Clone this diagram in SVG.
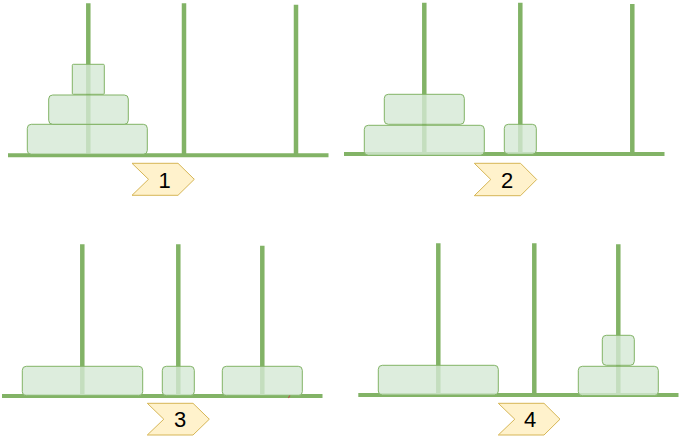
<svg xmlns="http://www.w3.org/2000/svg" width="681" height="436" viewBox="0 0 681 436">
<style>
.peg{stroke:#82b366;stroke-width:4.5;fill:none}
.base{stroke:#82b366;stroke-width:4;fill:none}
.disk{fill:#d5e8d4;fill-opacity:0.8;stroke:#82b366;stroke-width:1}
.step{fill:#fff2cc;stroke:#d6b656;stroke-width:1}
.lbl{font-family:"Liberation Sans",Arial,sans-serif;font-size:22px;fill:#000;text-anchor:middle}
</style>
<rect width="681" height="436" fill="#ffffff"/>
<g id="panel1">
  <line class="base" x1="8" y1="155.3" x2="328.5" y2="155.3"/>
  <line class="peg" x1="88.3" y1="3.3" x2="88.3" y2="155"/>
  <line class="peg" x1="184" y1="3.3" x2="184" y2="155"/>
  <line class="peg" x1="296" y1="4.7" x2="296" y2="155"/>
  <rect id="p1-d3" class="disk" x="27.3" y="124.3" width="120" height="30" rx="4"/>
  <rect id="p1-d2" class="disk" x="48.7" y="95" width="79.6" height="29.3" rx="4"/>
  <rect id="p1-d1" class="disk" x="72.3" y="64.3" width="32" height="30" rx="1"/>
  <g id="step1"><path class="step" d="M132,163.3 H178 L194.3,179.3 L178,195.3 H132 L148.5,179.3 Z"/><text class="lbl" x="164.5" y="187.5">1</text></g>
</g>
<g id="panel2">
  <line class="base" x1="344" y1="154" x2="664.5" y2="154"/>
  <line class="peg" x1="424.3" y1="2.7" x2="424.3" y2="154"/>
  <line class="peg" x1="520.3" y1="2.7" x2="520.3" y2="154"/>
  <line class="peg" x1="632.3" y1="4" x2="632.3" y2="154"/>
  <rect id="p2-d3" class="disk" x="364.3" y="125.3" width="120" height="30" rx="4"/>
  <rect id="p2-d2" class="disk" x="384.3" y="94.3" width="80" height="30" rx="4"/>
  <rect id="p2-d1" class="disk" x="504.3" y="124.3" width="32" height="30" rx="4"/>
  <g id="step2"><path class="step" d="M474.3,163.3 H520.5 L536.7,179.5 L520.5,195.7 H474.3 L490.8,179.5 Z"/><text class="lbl" x="507" y="187.7">2</text></g>
</g>
<g id="panel3">
  <line class="base" x1="2" y1="396" x2="322.5" y2="396"/>
  <line class="peg" x1="82.3" y1="244.3" x2="82.3" y2="396"/>
  <line class="peg" x1="178.3" y1="244.3" x2="178.3" y2="396"/>
  <line class="peg" x1="262.3" y1="245.7" x2="262.3" y2="396"/>
  <rect id="p3-d3" class="disk" x="22.3" y="366.3" width="120.4" height="29.4" rx="4"/>
  <rect id="p3-d1" class="disk" x="162.3" y="366.3" width="32" height="29.4" rx="4"/>
  <rect id="p3-d2" class="disk" x="222.3" y="366.3" width="80" height="29.4" rx="4"/>
  <path d="M288.3,398 L290,395.5" stroke="#b85450" stroke-width="1.2" fill="none"/>
  <g id="step3"><path class="step" d="M147.3,403.3 H193 L209.3,419.2 L193,435 H147.3 L163.8,419.2 Z"/><text class="lbl" x="180" y="427.3">3</text></g>
</g>
<g id="panel4">
  <line class="base" x1="358.3" y1="395" x2="678.5" y2="395"/>
  <line class="peg" x1="438.3" y1="243.3" x2="438.3" y2="395"/>
  <line class="peg" x1="534.3" y1="243.3" x2="534.3" y2="395"/>
  <line class="peg" x1="618.3" y1="244.3" x2="618.3" y2="395"/>
  <rect id="p4-d3" class="disk" x="378.3" y="365.3" width="120" height="29.7" rx="4"/>
  <rect id="p4-d2" class="disk" x="578.3" y="366.3" width="80" height="29.4" rx="4"/>
  <rect id="p4-d1" class="disk" x="602.3" y="335.3" width="32" height="30" rx="4"/>
  <g id="step4"><path class="step" d="M498.3,403.3 H544 L560,419.2 L544,435 H498.3 L514.8,419.2 Z"/><text class="lbl" x="530" y="427.3">4</text></g>
</g>
<g id="connectors"></g>
</svg>
